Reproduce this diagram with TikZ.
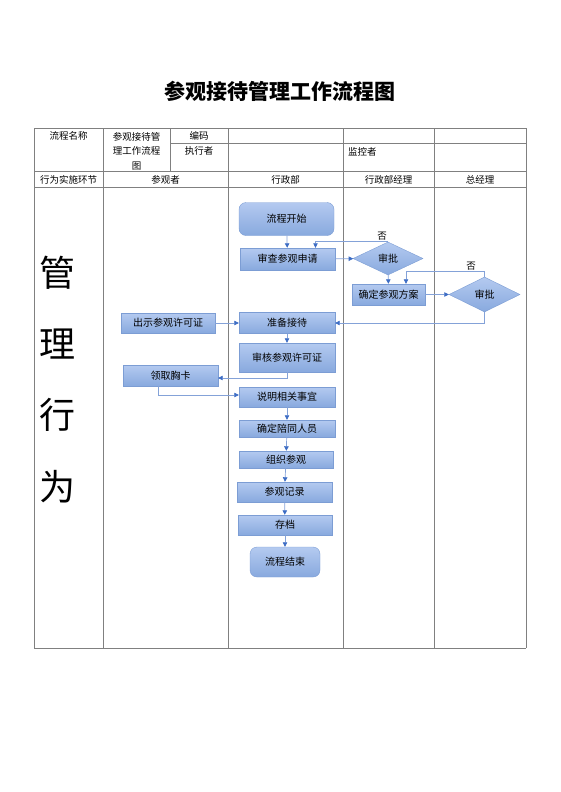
\documentclass[tikz,border=0pt]{standalone}
\usepackage{fontspec}
\setmainfont{Noto Sans CJK SC}
\usetikzlibrary{shapes.geometric,arrows.meta}
\definecolor{boxtop}{RGB}{180,202,240}
\definecolor{boxbot}{RGB}{136,169,222}
\definecolor{boxline}{RGB}{124,157,212}
\definecolor{lineblue}{RGB}{132,162,216}
\definecolor{tipblue}{RGB}{60,108,196}
\definecolor{gridgray}{RGB}{128,128,128}
\tikzset{
  grid/.style = {draw=gridgray, line width=0.6pt},
  cell/.style = {font=\fontsize{9.5}{14.5}\selectfont, inner sep=0pt},
  bigchar/.style = {font=\fontsize{36}{36}\selectfont, inner sep=0pt},
  task/.style = {rectangle, draw=boxline, top color=boxtop, bottom color=boxbot,
    font=\fontsize{10}{12}\selectfont, inner sep=0pt},
  terminal/.style = {task, rounded corners=7pt},
  decide/.style = {diamond, aspect=2, draw=boxline, top color=boxtop, bottom color=boxbot,
    font=\fontsize{10}{12}\selectfont, inner sep=0pt},
  flow/.style = {draw=lineblue, line width=0.7pt, >={Triangle[length=4.5pt,width=4.5pt,color=tipblue]}}
}
\begin{document}
\begin{tikzpicture}[x=1pt,y=-1pt]
\useasboundingbox (0,0) rectangle (560,792);

\node[font=\fontsize{21}{21}\selectfont\bfseries] (title) at (280,91) {参观接待管理工作流程图};

\draw[grid] (34,128) -- (526,128);
\draw[grid] (170,143) -- (526,143);
\draw[grid] (34,171) -- (526,171);
\draw[grid] (34,187) -- (526,187);
\draw[grid] (34,648) -- (526,648);
\draw[grid] (34,128) -- (34,648);
\draw[grid] (103,128) -- (103,648);
\draw[grid] (170,128) -- (170,171);
\draw[grid] (228,128) -- (228,648);
\draw[grid] (343,128) -- (343,648);
\draw[grid] (434,128) -- (434,648);
\draw[grid] (526,128) -- (526,648);

\node[cell] (name) at (68.5,136) {流程名称};
\node[cell, align=center] (namev) at (136.5,151) {参观接待管\\理工作流程\\图};
\node[cell] (code) at (199,136) {编码};
\node[cell] (exec) at (199,151) {执行者};
\node[cell, anchor=west] (monitor) at (348,152) {监控者};
\node[cell] (stage) at (68.5,180) {行为实施环节};
\node[cell] (lane1) at (165.5,180) {参观者};
\node[cell] (lane2) at (285.5,180) {行政部};
\node[cell] (lane3) at (388.5,180) {行政部经理};
\node[cell] (lane4) at (480,180) {总经理};

\node[bigchar] (c1) at (57,273) {管};
\node[bigchar] (c2) at (57,344) {理};
\node[bigchar] (c3) at (57,415) {行};
\node[bigchar] (c4) at (57,487) {为};

\node[terminal, minimum width=95pt, minimum height=33pt] (start) at (286.5,219) {流程开始};
\node[task, minimum width=95pt, minimum height=22pt] (check) at (287.5,259) {审查参观申请};
\node[decide, minimum width=70pt, minimum height=33pt] (appr1) at (388,258.5) {审批};
\node[task, minimum width=73pt, minimum height=21pt] (plan) at (388.5,294.5) {确定参观方案};
\node[decide, minimum width=71pt, minimum height=35pt] (appr2) at (484.5,294.5) {审批};
\node[task, minimum width=96pt, minimum height=21pt] (prep) at (287,323) {准备接待};
\node[task, minimum width=94pt, minimum height=20pt] (show) at (168,323) {出示参观许可证};
\node[task, minimum width=96pt, minimum height=29pt] (verify) at (287,357.5) {审核参观许可证};
\node[task, minimum width=95pt, minimum height=21pt] (badge) at (170.5,375.5) {领取胸卡};
\node[task, minimum width=96pt, minimum height=20pt] (explain) at (287,397) {说明相关事宜};
\node[task, minimum width=96pt, minimum height=17pt] (escort) at (287,428.5) {确定陪同人员};
\node[task, minimum width=94pt, minimum height=17pt] (tour) at (286,459.5) {组织参观};
\node[task, minimum width=95pt, minimum height=20pt] (record) at (284.5,492) {参观记录};
\node[task, minimum width=94pt, minimum height=20pt] (archive) at (285,525) {存档};
\node[terminal, minimum width=70pt, minimum height=30pt] (end) at (285,562) {流程结束};

\node[cell] (no1) at (382,236) {否};
\node[cell] (no2) at (471,266) {否};

\draw[flow,->] (start) -- (check);
\draw[flow,->] (check) -- (appr1);
\draw[flow,->] (appr1.north) -| ([xshift=28pt]check.north);
\draw[flow,->] (appr1) -- (plan);
\draw[flow,->] (plan) -- (appr2);
\draw[flow,->] (appr2.north) -- ++(0,-5) -| ([xshift=17.5pt]plan.north);
\draw[flow,->] (appr2.south) |- (prep.east);
\draw[flow,->] (show) -- (prep);
\draw[flow,->] (prep) -- (verify);
\draw[flow,->] (verify.south) |- ([yshift=-2.5pt]badge.east);
\draw[flow,->] ([xshift=-12.5pt]badge.south) |- ([yshift=2pt]explain.west);
\draw[flow,->] (explain) -- (escort);
\draw[flow,->] (escort) -- (tour);
\draw[flow,->] (tour) -- (record);
\draw[flow,->] (record) -- (archive);
\draw[flow,->] (archive) -- (end);
\end{tikzpicture}
\end{document}
